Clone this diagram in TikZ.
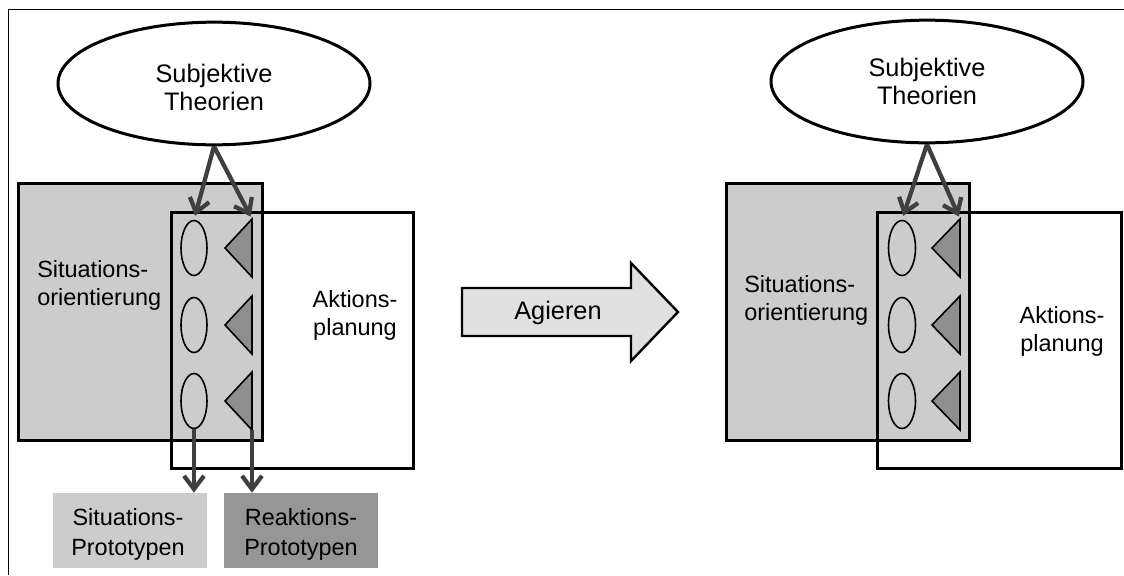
\documentclass[tikz,border=0pt]{standalone}
\usepackage{fontspec}
\setmainfont{Liberation Sans}
\usetikzlibrary{shapes.geometric,arrows.meta}
\definecolor{boxgray}{HTML}{CCCCCC}
\definecolor{trigray}{HTML}{8E8E8E}
\definecolor{darkbox}{HTML}{969696}
\definecolor{arrgray}{HTML}{E0E0E0}
\definecolor{conngray}{HTML}{3F3F3F}
\begin{document}
\begin{tikzpicture}[x=0.75pt,y=-0.75pt,
  txt/.style={font=\fontsize{19}{20.5}\selectfont, inner sep=0pt},
  stxt/.style={font=\fontsize{17.6}{21}\selectfont, inner sep=0pt},
  bigell/.style={ellipse, draw, line width=2.25pt, fill=white, minimum width=234pt, minimum height=92pt, inner sep=0pt},
  smell/.style={ellipse, draw, line width=1.2pt, minimum width=19.5pt, minimum height=41.25pt, inner sep=0pt},
  tri/.style={draw, line width=1.2pt, fill=trigray},
  boxline/.style={line width=2.25pt},
  conn/.style={draw=conngray, line width=3.2pt, -{Straight Barb[length=10pt,width=15pt]}},
  proto/.style={inner sep=0pt, minimum width=115.5pt, minimum height=56.25pt},
  prototxt/.style={font=\fontsize{17.6}{22.5}\selectfont, inner sep=0pt, align=center}
]
\useasboundingbox (0,0) rectangle (1124,575);
\draw[line width=0.75pt] (8,575) -- (8,9) -- (1124,9);

% ---------- left diagram ----------
\fill[white] (171,212) rectangle (413,468);
\filldraw[boxline, fill=boxgray] (18,183) rectangle (262,440);
\draw[boxline] (171,212) rectangle (413,468);

\node[bigell] (stL) at (214,83.5) {};
\node[txt, align=center] (stLt) at (214,87.5) {Subjektive\\Theorien};

\node[stxt, align=left, anchor=west] (soL) at (37,285) {Situations-\\orientierung};
\node[stxt, align=center] (apL) at (355,315) {Aktions-\\planung};

\node[smell] (eL1) at (194,248) {};
\node[smell] (eL2) at (194,325) {};
\node[smell] (eL3) at (194,401) {};
\draw[tri] (252,219) coordinate (tL1a) -- (225,248) -- (252,277) -- cycle;
\draw[tri] (252,296) coordinate (tL2a) -- (225,325) -- (252,354) -- cycle;
\draw[tri] (252,372) coordinate (tL3a) -- (225,401) -- (252,430) coordinate (tL3b) -- cycle;

\node[proto, fill=boxgray] (spL) at (130,530.5) {};
\node[prototxt] (spLt) at (128,534) {Situations-\\Prototypen};
\node[proto, fill=darkbox] (rpL) at (301,530.5) {};
\node[prototxt] (rpLt) at (301,534) {Reaktions-\\Prototypen};

\draw[conn, shorten >=3pt] (stL.south) -- (eL1.north);
\draw[conn, shorten >=2pt] (stL.south) -- (tL1a);
\draw[conn] (eL3.south) -- (eL3.south |- spL.north);
\draw[conn] (tL3b) -- (tL3b |- rpL.north);

% ---------- Agieren arrow ----------
\draw[line width=1.8pt, fill=arrgray] (462,288) -- (631,288) -- (631,263) -- (678,312)
  -- (631,361) -- (631,336) -- (462,336) -- cycle;
\node[txt] (ag) at (558,313) {Agieren};

% ---------- right diagram ----------
\fill[white] (877,212) rectangle (1121,468);
\filldraw[boxline, fill=boxgray] (726,183) rectangle (969,440);
\draw[boxline] (877,212) rectangle (1121,468);

\node[bigell, align=center, txt] (stR) at (927,81.5) {Subjektive\\Theorien};

\node[stxt, align=left, anchor=west] (soR) at (744,300) {Situations-\\orientierung};
\node[stxt, align=center] (apR) at (1062,331) {Aktions-\\planung};

\node[smell, minimum width=20.25pt] (eR1) at (902,248) {};
\node[smell, minimum width=20.25pt] (eR2) at (902,325) {};
\node[smell, minimum width=20.25pt] (eR3) at (902,401) {};
\draw[tri] (960,219) coordinate (tR1a) -- (932,248) -- (960,277) -- cycle;
\draw[tri] (960,296) coordinate (tR2a) -- (932,325) -- (960,354) -- cycle;
\draw[tri] (960,372) coordinate (tR3a) -- (932,401) -- (960,430) -- cycle;

\draw[conn, shorten >=3pt] (stR.south) -- (eR1.north);
\draw[conn, shorten >=2pt] (stR.south) -- (tR1a);
\end{tikzpicture}
\end{document}
